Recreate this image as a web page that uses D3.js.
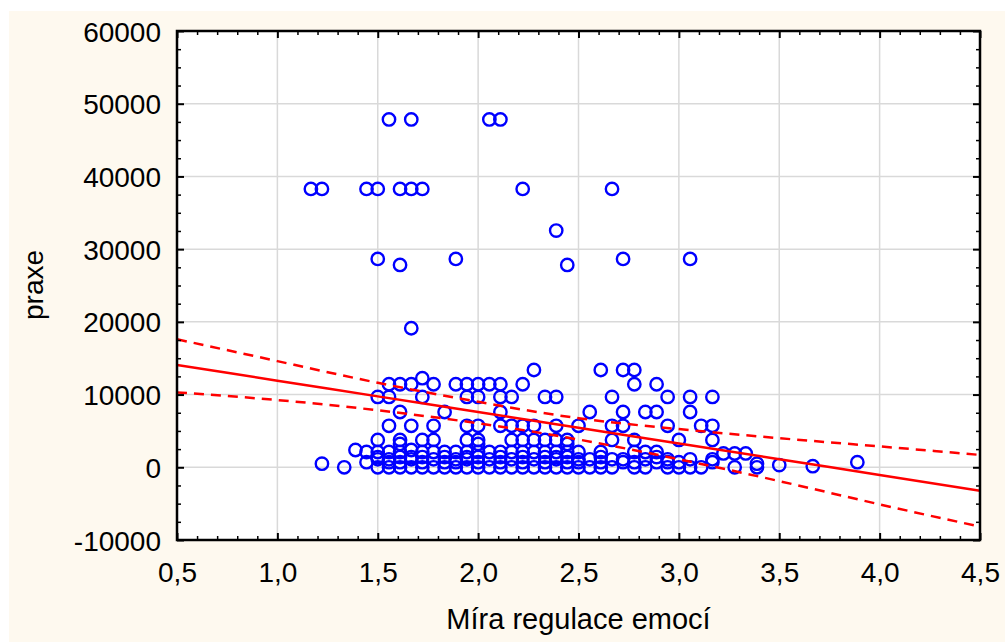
<!DOCTYPE html>
<html>
<head>
<meta charset="utf-8">
<script src="https://cdn.jsdelivr.net/npm/d3@7"></script>
<style>
  body { margin: 0; background: #fff; }
  svg { display: block; }
  text { font-family: "Liberation Sans", Arial, sans-serif; fill: #000; }
</style>
</head>
<body>
<svg id="chart" width="1005" height="643"></svg>
<script>
// tick values
const xTicks = [0.5, 1.0, 1.5, 2.0, 2.5, 3.0, 3.5, 4.0, 4.5];
const yTicks = [-10000, 0, 10000, 20000, 30000, 40000, 50000, 60000];

// praxe levels and the regulace values of the points that sit on each level
const praxeLevels = [47840, 38280, 32550, 28650, 27830, 19120, 13380, 12250, 11420,
  9680, 7600, 5700, 3760, 3200, 2380, 2100, 1900, 1400, 1100, 700, 500, 300, 150, 0];
const regulaceAtLevel = [
  [1.556, 1.667, 2.056, 2.111],
  [1.167, 1.222, 1.444, 1.5, 1.611, 1.667, 1.722, 2.222, 2.667],
  [2.389],
  [1.5, 1.889, 2.722, 3.056],
  [1.611, 2.444],
  [1.667],
  [2.278, 2.611, 2.722, 2.778],
  [1.722],
  [1.556, 1.611, 1.667, 1.778, 1.889, 1.944, 2.0, 2.056, 2.111, 2.222, 2.778, 2.889],
  [1.5, 1.556, 1.722, 1.944, 2.0, 2.111, 2.167, 2.333, 2.389, 2.667, 2.944, 3.056, 3.167],
  [1.611, 1.833, 2.111, 2.556, 2.722, 2.833, 2.889, 3.056],
  [1.556, 1.667, 1.778, 1.944, 2.0, 2.111, 2.167, 2.222, 2.278, 2.389, 2.5, 2.667, 2.722, 2.944, 3.111, 3.167],
  [1.5, 1.611, 1.722, 1.778, 1.944, 2.0, 2.167, 2.222, 2.278, 2.333, 2.389, 2.444, 2.667, 2.778, 3.0, 3.167],
  [1.611, 2.0, 2.444],
  [1.389, 1.667],
  [1.444, 1.5, 1.556, 1.611, 1.722, 1.778, 1.833, 1.889, 1.944, 2.0, 2.056, 2.111, 2.167, 2.222,
   2.278, 2.333, 2.389, 2.444, 2.5, 2.611, 2.778, 2.833, 2.889],
  [3.222, 3.278, 3.333],
  [1.5, 1.611, 1.667, 1.722, 1.833, 1.944, 2.0, 2.111, 2.222, 2.333, 2.389, 2.444, 2.611, 2.889],
  [1.5, 1.556, 1.667, 1.778, 1.889, 1.944, 2.056, 2.167, 2.278, 2.389, 2.5, 2.556, 2.667, 2.722,
   2.833, 2.944, 3.056, 3.167],
  [1.444, 1.556, 1.611, 1.722, 1.833, 1.889, 2.0, 2.111, 2.222, 2.333, 2.444, 2.5, 2.611, 2.722,
   2.778, 2.889, 2.944, 3.0, 3.167, 3.889],
  [1.222, 3.389],
  [3.5],
  [3.667],
  [1.333, 1.5, 1.556, 1.611, 1.667, 1.722, 1.778, 1.833, 1.889, 1.944, 2.0, 2.056, 2.111, 2.167,
   2.222, 2.278, 2.333, 2.389, 2.444, 2.5, 2.556, 2.611, 2.667, 2.778, 2.833, 2.944, 3.0, 3.056,
   3.111, 3.278, 3.389]
];

// fitted line and 95% band, read at each half unit
const bandX = [0.5, 1.0, 1.5, 2.0, 2.5, 3.0, 3.5, 4.0, 4.5];
const fitY = [14070, 11910, 9750, 7590, 5430, 3270, 1110, -1060, -3220];
const upperY = [17600, 14600, 11620, 9000, 6750, 5250, 4000, 2870, 1700];
const lowerY = [10300, 9250, 7840, 6050, 3820, 1100, -1900, -5100, -8160];

const svg = d3.select('#chart');
const margin = { top: 31, right: 25, bottom: 103, left: 177 };
const width = 1005 - margin.left - margin.right;
const height = 643 - margin.top - margin.bottom;

const locale = d3.formatLocale({ decimal: ',', thousands: '', grouping: [3], currency: ['', ''], minus: '-' });
const fmtX = locale.format('.1f');
const fmtY = locale.format('d');

svg.append('rect')
  .attr('x', 9).attr('y', 11)
  .attr('width', 996).attr('height', 631)
  .attr('fill', '#fef9ef');

const g = svg.append('g')
  .attr('transform', `translate(${margin.left},${margin.top})`);

const x = d3.scaleLinear().domain([0.5, 4.5]).range([0, width]);
const y = d3.scaleLinear().domain([-10000, 60000]).range([height, 0]);

g.append('rect')
  .attr('width', width).attr('height', height)
  .attr('fill', '#fff');

g.append('clipPath').attr('id', 'plot-clip')
  .append('rect').attr('width', width).attr('height', height);

// grid
g.append('g').selectAll('line')
  .data(xTicks.slice(1, -1))
  .enter().append('line')
  .attr('x1', d => x(d)).attr('x2', d => x(d))
  .attr('y1', 0).attr('y2', height)
  .attr('stroke', '#d9d9d9').attr('stroke-width', 1.5);

g.append('g').selectAll('line')
  .data(yTicks.slice(1, -1))
  .enter().append('line')
  .attr('x1', 0).attr('x2', width)
  .attr('y1', d => y(d)).attr('y2', d => y(d))
  .attr('stroke', '#d9d9d9').attr('stroke-width', 1.5);

// points
const points = [];
praxeLevels.forEach((p, i) => {
  regulaceAtLevel[i].forEach(r => points.push({ r: r, p: p }));
});

const plot = g.append('g').attr('clip-path', 'url(#plot-clip)');

plot.selectAll('.pt')
  .data(points)
  .enter().append('circle')
  .classed('pt', true)
  .attr('cx', d => x(d.r))
  .attr('cy', d => y(d.p))
  .attr('r', 6.2)
  .attr('fill', 'none')
  .attr('stroke', '#0000ff')
  .attr('stroke-width', 2.4);

// regression and band
const line = d3.line()
  .x(d => x(d[0]))
  .y(d => y(d[1]))
  .curve(d3.curveNatural);

plot.append('path')
  .datum(bandX.map((v, i) => [v, fitY[i]]))
  .attr('d', line)
  .attr('fill', 'none').attr('stroke', '#ff0000').attr('stroke-width', 2.5);

[upperY, lowerY].forEach(band => {
  plot.append('path')
    .datum(bandX.map((v, i) => [v, band[i]]))
    .attr('d', line)
    .attr('fill', 'none').attr('stroke', '#ff0000').attr('stroke-width', 2.5)
    .attr('stroke-dasharray', '10,7');
});

// axes
const xMinor = d3.range(5, 46).filter(i => i % 5 !== 0).map(i => i / 10);
const yMinor = d3.range(-10000, 60001, 2500).filter(v => v % 10000 !== 0);

function styleAxis(sel, major) {
  sel.select('.domain').remove();
  sel.selectAll('.tick line').attr('stroke', '#000').attr('stroke-width', major ? 2 : 1.5);
  sel.selectAll('.tick text').style('font-size', '28px').attr('fill', '#000');
}

g.append('g')
  .call(d3.axisLeft(y).tickValues(yTicks).tickSizeInner(-7).tickSizeOuter(0).tickPadding(16).tickFormat(fmtY))
  .call(s => styleAxis(s, true))
  .selectAll('.tick text').attr('dy', '0.36em');

g.append('g')
  .call(d3.axisLeft(y).tickValues(yMinor).tickSize(-4).tickFormat(''))
  .call(s => styleAxis(s, false));

g.append('g')
  .attr('transform', `translate(${width},0)`)
  .call(d3.axisRight(y).tickValues(yTicks).tickSize(-7).tickFormat(''))
  .call(s => styleAxis(s, true));

g.append('g')
  .attr('transform', `translate(${width},0)`)
  .call(d3.axisRight(y).tickValues(yMinor).tickSize(-4).tickFormat(''))
  .call(s => styleAxis(s, false));

g.append('g')
  .attr('transform', `translate(0,${height})`)
  .call(d3.axisBottom(x).tickValues(xTicks).tickSizeInner(-7).tickSizeOuter(0).tickPadding(22).tickFormat(fmtX))
  .call(s => styleAxis(s, true));

g.append('g')
  .attr('transform', `translate(0,${height})`)
  .call(d3.axisBottom(x).tickValues(xMinor).tickSize(-4).tickFormat(''))
  .call(s => styleAxis(s, false));

g.append('g')
  .call(d3.axisTop(x).tickValues(xTicks).tickSize(-7).tickFormat(''))
  .call(s => styleAxis(s, true));

g.append('g')
  .call(d3.axisTop(x).tickValues(xMinor).tickSize(-4).tickFormat(''))
  .call(s => styleAxis(s, false));

g.append('rect')
  .attr('width', width).attr('height', height)
  .attr('fill', 'none').attr('stroke', '#000').attr('stroke-width', 2.5);

// titles
svg.append('text')
  .attr('x', margin.left + width / 2)
  .attr('y', 629)
  .attr('text-anchor', 'middle')
  .style('font-size', '29px')
  .text('Míra regulace emocí');

svg.append('text')
  .attr('transform', 'translate(43,285) rotate(-90)')
  .attr('text-anchor', 'middle')
  .style('font-size', '28px')
  .text('praxe');
</script>
</body>
</html>
